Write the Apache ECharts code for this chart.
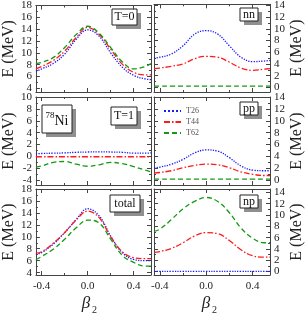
<!DOCTYPE html>
<html><head><meta charset="utf-8">
<script src="https://cdn.jsdelivr.net/npm/echarts@6/dist/echarts.min.js"></script>
<style>html,body{margin:0;padding:0;background:#fff}#c{width:307px;height:314px}</style>
</head><body><div id="c"></div>
<script>
const xs = [-0.45,-0.4,-0.3,-0.2,-0.1,0,0.1,0.2,0.3,0.4,0.5,0.55];
const xLabels = [-0.4,0,0.4];
const seriesNames = ['T26','T44','T62'];

// T=0 panel
const t0_T26 = [6.9,7.3,8.2,9.8,12.3,13.9,12.8,10.0,7.6,6.2,5.6,5.5];
const t0_T44 = [7.3,7.7,8.7,10.3,12.6,14.3,13.1,10.6,8.1,6.7,6.3,6.3];
const t0_T62 = [8.2,8.4,9.2,10.9,13.1,14.5,13.3,10.9,8.5,7.3,7.7,8.2];
// nn panel
const nn_T26 = [5.0,5.15,5.7,7.1,9.1,9.7,9.1,7.1,5.15,4.4,4.5,4.6];
const nn_T44 = [3.2,3.3,3.6,4.0,4.9,5.3,5.15,4.3,3.3,2.9,3.1,3.2];
const nn_T62 = [0.2,0.2,0.2,0.2,0.2,0.2,0.2,0.2,0.2,0.2,0.2,0.2];
// T=1 panel
const t1_T26 = [0.45,0.5,0.55,0.6,0.7,0.75,0.78,0.75,0.7,0.55,0.55,0.6];
const t1_T44 = [-0.05,-0.05,-0.05,-0.05,-0.05,-0.05,-0.05,-0.05,-0.05,-0.05,-0.05,-0.05];
const t1_T62 = [-1.8,-1.6,-1.0,-0.85,-1.3,-1.65,-1.4,-1.0,-1.2,-1.7,-2.3,-2.6];
// pp panel
const pp_T26 = [2.1,2.2,2.7,3.5,4.6,5.1,4.9,3.8,2.4,1.7,1.6,1.6];
const pp_T44 = [1.2,1.3,1.6,2.1,2.5,2.7,2.6,2.1,1.4,1.0,0.8,0.8];
const pp_T62 = [0.2,0.2,0.2,0.2,0.2,0.2,0.2,0.2,0.2,0.2,0.2,0.2];
// total panel
const tot_T26 = [7.1,7.35,8.75,10.7,12.9,14.7,13.5,10.1,7.35,6.2,6.0,6.0];
const tot_T44 = [7.25,7.5,8.9,10.7,12.8,14.3,13.2,10.0,7.5,6.5,6.35,6.35];
const tot_T62 = [6.2,6.7,7.9,9.6,11.5,12.8,12.3,9.6,6.9,5.7,5.1,5.1];
// np panel
const np_T26 = [0.05,0.05,0.05,0.05,0.05,0.05,0.05,0.05,0.05,0.05,0.05,0.05];
const np_T44 = [3.4,3.55,4.1,5.1,6.3,6.9,6.7,5.5,3.85,2.8,2.55,2.55];
const np_T62 = [7.1,7.5,9.2,11.1,12.4,13.1,12.4,10.4,7.7,5.9,5.1,5.1];

const yTicksA = [4,6,8,10,12,14,16,18];
const yTicksB = [0,2,4,6,8,10,12,14];
const yTicksC = [-4,-2,0,2,4,6,8,10];

const panels = [
  {data:[t0_T26,t0_T44,t0_T62], ymin:3.4, ymax:18, ticks:yTicksA, grid:{left:34,top:3,width:117,height:89}, col:0, row:0},
  {data:[nn_T26,nn_T44,nn_T62], ymin:-0.8, ymax:14.2, ticks:yTicksB, grid:{left:154,top:3,width:116,height:89}, col:1, row:0},
  {data:[t1_T26,t1_T44,t1_T62], ymin:-4.8, ymax:10, ticks:yTicksC, grid:{left:34,top:97,width:117,height:88}, col:0, row:1},
  {data:[pp_T26,pp_T44,pp_T62], ymin:-0.8, ymax:14.0, ticks:yTicksB, grid:{left:154,top:97,width:116,height:88}, col:1, row:1},
  {data:[tot_T26,tot_T44,tot_T62], ymin:3.6, ymax:18, ticks:yTicksA, grid:{left:34,top:189,width:117,height:86}, col:0, row:2},
  {data:[np_T26,np_T44,np_T62], ymin:-0.6, ymax:14.6, ticks:yTicksB, grid:{left:154,top:189,width:116,height:86}, col:1, row:2},
];

const colors = ['#1a1aff','#ff1a1a','#139913'];
const types = ['dotted',[6,2,1.5,2],[5,3]];
const FONT = 'Liberation Serif';
const AX = '#444';

const grid=[], xAxis=[], yAxis=[], series=[];
panels.forEach((p,i)=>{
  grid.push(p.grid);
  const minorY = [];
  for (let v=Math.ceil(p.ymin); v<=p.ymax; v++) if (p.ticks.indexOf(v)<0) minorY.push(v);
  const xBase = xAxis.length, yBase = yAxis.length;
  ['bottom','top'].forEach(pos=>{
    xAxis.push({gridIndex:i,type:'value',min:-0.45,max:0.55,position:pos,
      axisLine:{show:true,onZero:false,lineStyle:{color:AX,width:1}},
      axisTick:{show:true,inside:true,length:4,customValues:xLabels,lineStyle:{color:AX}},
      axisLabel:{show:pos==='bottom'&&p.row===2,customValues:xLabels,formatter:v=>v.toFixed(1),
        fontFamily:FONT,fontSize:11,color:'#222',margin:6},
      splitLine:{show:false}});
    xAxis.push({gridIndex:i,type:'value',min:-0.45,max:0.55,position:pos,
      axisLine:{show:false,onZero:false},
      axisTick:{show:true,inside:true,length:2,customValues:[-0.2,0.2],lineStyle:{color:AX}},
      axisLabel:{show:false},splitLine:{show:false}});
  });
  ['left','right'].forEach(pos=>{
    const lab = (pos==='left'&&p.col===0)||(pos==='right'&&p.col===1);
    yAxis.push({gridIndex:i,type:'value',min:p.ymin,max:p.ymax,position:pos,
      axisLine:{show:true,onZero:false,lineStyle:{color:AX,width:1}},
      axisTick:{show:true,inside:true,length:4,customValues:p.ticks,lineStyle:{color:AX}},
      axisLabel:{show:lab,customValues:p.ticks,fontFamily:FONT,fontSize:11,color:'#222',margin:4},
      splitLine:{show:false},
      name: lab?'E (MeV)':'', nameLocation:'middle', nameGap:18, nameRotate:90,
      nameTextStyle:{fontFamily:FONT,fontSize:16,color:'#222'}});
    yAxis.push({gridIndex:i,type:'value',min:p.ymin,max:p.ymax,position:pos,
      axisLine:{show:false,onZero:false},
      axisTick:{show:true,inside:true,length:2,customValues:minorY,lineStyle:{color:AX}},
      axisLabel:{show:false},splitLine:{show:false}});
  });
  p.data.forEach((arr,k)=>{
    series.push({type:'line',name:seriesNames[k],xAxisIndex:xBase,yAxisIndex:yBase,
      data:xs.map((x,j)=>[x,arr[j]]),smooth:0.4,symbol:'none',
      lineStyle:{color:colors[k],width:1.3,type:types[k]},itemStyle:{color:colors[k]}});
  });
});

function box(x,y,w,h,text,extra){
  return {type:'group',children:[
    {type:'rect',shape:{x:x+4,y:y+4,width:w,height:h},style:{fill:'#8f8f8f'}},
    {type:'rect',shape:{x:x,y:y,width:w,height:h},style:{fill:'#fff',stroke:'#222',lineWidth:1}},
    {type:'text',x:x+w/2,y:y+h/2,style:Object.assign({text:text,fontFamily:FONT,fontSize:12,fill:'#111',
      align:'center',verticalAlign:'middle'},extra||{})}
  ]};
}
const graphic = [
  box(112,9,25,16,'T=0'),
  box(240,8,18,13,'nn'),
  box(42,105,30,28,'{s|78}{n|Ni}',{rich:{s:{fontFamily:FONT,fontSize:9,padding:[0,0,6,0]},n:{fontFamily:FONT,fontSize:14,padding:[4,0,0,0]}}}),
  box(111,107,26,18,'T=1'),
  box(240,102,18,13,'pp'),
  box(110,195,30,17,'total'),
  box(240,195,18,13,'np'),
  {type:'text',x:86,y:304,style:{text:'β',fontFamily:FONT,fontStyle:'italic',fontSize:17,fill:'#222',align:'center',verticalAlign:'middle'}},
  {type:'text',x:92,y:310,style:{text:'2',fontFamily:FONT,fontSize:10,fill:'#222',align:'left',verticalAlign:'middle'}},
  {type:'text',x:206,y:304,style:{text:'β',fontFamily:FONT,fontStyle:'italic',fontSize:17,fill:'#222',align:'center',verticalAlign:'middle'}},
  {type:'text',x:212,y:310,style:{text:'2',fontFamily:FONT,fontSize:10,fill:'#222',align:'left',verticalAlign:'middle'}}
];

const chart = echarts.init(document.getElementById('c'),null,{renderer:'canvas'});
chart.setOption({
  animation:false,
  grid:grid, xAxis:xAxis, yAxis:yAxis, series:series, graphic:graphic,
  legend:{data:seriesNames,orient:'vertical',left:158,top:102,itemWidth:17,itemHeight:6,itemGap:3,
    itemStyle:{opacity:0},
    textStyle:{fontFamily:FONT,fontSize:8,color:'#555'}}
});
</script></body></html>
